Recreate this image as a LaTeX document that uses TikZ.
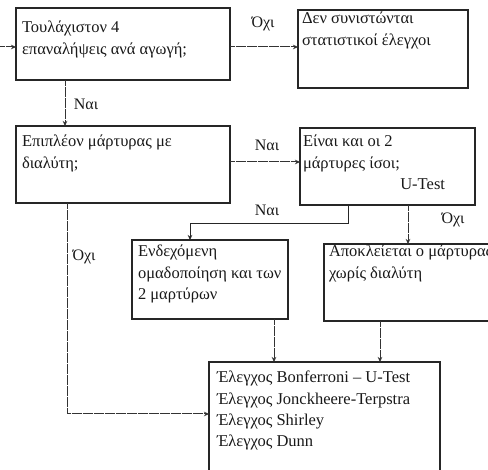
\documentclass[tikz,border=0pt]{standalone}
\usepackage{fontspec}
\setmainfont{Liberation Serif}
\usetikzlibrary{arrows.meta,calc}

\tikzset{
  flowbox/.style={draw=black!85, line width=1.1pt, inner sep=0pt, outer sep=0pt},
  txt/.style={inner sep=0pt, outer sep=0pt, anchor=base west, text=black!90,
              font=\fontsize{16.5}{21.3}\selectfont},
  lbl/.style={inner sep=0pt, text=black!90, font=\fontsize{16}{18}\selectfont},
  dotarrow/.style={draw=black!80, line width=1pt, dash pattern=on 0.6pt off 0.5pt,
                   -{Stealth[length=5pt,width=4.5pt,inset=1.5pt]}},
  solidarrow/.style={draw=black!85, line width=1pt,
                   -{Stealth[length=5pt,width=4.5pt,inset=1.5pt]}},
}
\newcommand{\boxlines}[2]{\parbox[t]{#1pt}{\raggedright #2}}

\begin{document}
\begin{tikzpicture}[x=1pt,y=-1pt]
  \useasboundingbox (0,0) rectangle (488,470);
  \clip (0,0) rectangle (488,470);

  % boxes
  \node[flowbox, minimum width=214pt, minimum height=72pt] (b1) at (123,44) {};
  \node[flowbox, minimum width=170pt, minimum height=78pt] (b2) at (383,49) {};
  \node[flowbox, minimum width=214pt, minimum height=77pt] (b3) at (123,164.5) {};
  \node[flowbox, minimum width=175pt, minimum height=77pt] (b4) at (387.5,166.5) {};
  \node[flowbox, minimum width=156pt, minimum height=79pt] (b5) at (210,279.5) {};
  \node[flowbox, minimum width=176pt, minimum height=77pt] (b6) at (412,282.5) {};
  \node[flowbox, minimum width=231pt, minimum height=113pt] (b7) at (324.5,418.5) {};

  % box texts
  \node[txt] (t1) at (22,33) {\boxlines{205}{Τουλάχιστον 4\\επαναλήψεις ανά αγωγή;}};
  \node[txt] (t2) at (302,24) {\boxlines{165}{Δεν συνιστώνται\\στατιστικοί έλεγχοι}};
  \node[txt] (t3) at (22,147) {\boxlines{205}{Επιπλέον μάρτυρας με\\διαλύτη;}};
  \node[txt] (t4) at (303,147) {\boxlines{142}{Είναι και οι 2\\μάρτυρες ίσοι;\\\hspace*{\fill}U-Test}};
  \node[txt] (t5) at (138,257) {\boxlines{148}{Ενδεχόμενη\\ομαδοποίηση και των\\2 μαρτύρων}};
  \node[txt] (t6) at (329,257) {\boxlines{200}{Αποκλείεται ο μάρτυρας\\χωρίς διαλύτη}};
  \node[txt] (t7) at (217,383) {\boxlines{220}{Έλεγχος Bonferroni – U-Test\\Έλεγχος Jonckheere-Terpstra\\Έλεγχος Shirley\\Έλεγχος Dunn}};

  % helper points for the connector routes
  \coordinate (entry) at (0,47);
  \coordinate (rowA) at (0,47);
  \coordinate (colA) at (65,0);
  \coordinate (rowB) at (0,162);
  \coordinate (colB) at (348,0);
  \coordinate (bendB) at (348,224);
  \coordinate (bendC) at (190,224);
  \coordinate (colD) at (408,0);
  \coordinate (colE) at (274,0);
  \coordinate (colF) at (380,0);
  \coordinate (colG) at (67,0);
  \coordinate (rowG) at (0,414);

  % connectors
  \draw[dotarrow] (entry) -- (entry -| b1.west);
  \draw[dotarrow] (rowA -| b1.east) -- (rowA -| b2.west);
  \draw[dotarrow] (colA |- b1.south) -- (colA |- b3.north);
  \draw[dotarrow] (rowB -| b3.east) -- (rowB -| b4.west);
  \draw[solidarrow] (colB |- b4.south) -- (bendB) -- (bendC) -- (bendC |- b5.north);
  \draw[dotarrow] (colD |- b4.south) -- (colD |- b6.north);
  \draw[dotarrow] (colE |- b5.south) -- (colE |- b7.north);
  \draw[dotarrow] (colF |- b6.south) -- (colF |- b7.north);
  \draw[dotarrow] (colG |- b3.south) -- (colG |- rowG) -- (rowG -| b7.west);

  % connector labels
  \node[lbl] (l1) at (263,24) {Όχι};
  \node[lbl] (l2) at (86,104) {Ναι};
  \node[lbl] (l3) at (267,145) {Ναι};
  \node[lbl] (l4) at (267,210) {Ναι};
  \node[lbl] (l5) at (453,220) {Όχι};
  \node[lbl] (l6) at (84,257) {Όχι};
\end{tikzpicture}
\end{document}
